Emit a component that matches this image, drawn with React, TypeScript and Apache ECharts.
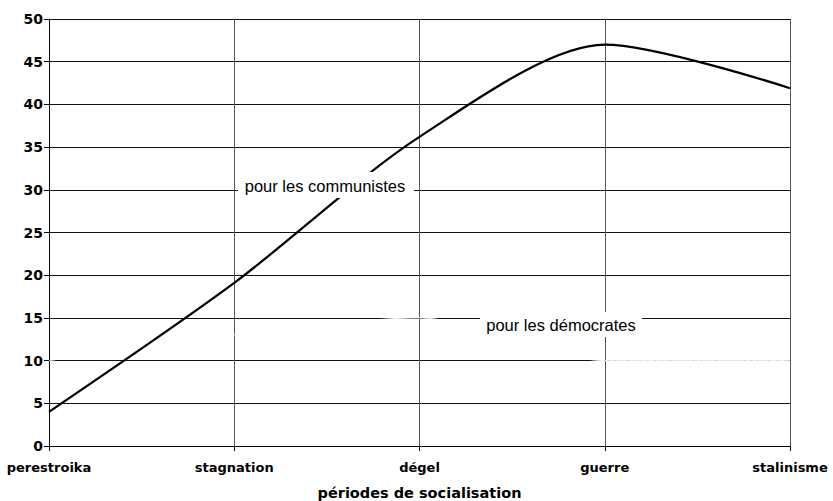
import React, { useEffect, useRef } from "react";
import * as echarts from "echarts";

const categories = ["perestroika", "stagnation", "dégel", "guerre", "stalinisme"];
const communistes = [4, 19.1, 36.2, 47, 41.9];
const democrates = [10, 13, 15, 10, 10];
const yTicks = { min: 0, max: 50, interval: 5 };

export default function App() {
  const ref = useRef<HTMLDivElement>(null);
  useEffect(() => {
    if (!ref.current) return;
    const chart = echarts.init(ref.current, undefined, { renderer: "svg" });
    chart.setOption({
      animation: false,
      backgroundColor: "#fff",
      grid: { left: 49, right: 43, top: 19, bottom: 55, containLabel: false, outerBoundsMode: "none" },
      xAxis: {
        type: "category",
        data: categories,
        boundaryGap: false,
        name: "périodes de socialisation",
        nameLocation: "middle",
        nameGap: 39,
        nameTextStyle: { fontFamily: "DejaVu Sans", fontWeight: "bold", fontSize: 14.5, color: "#000" },
        axisLine: { show: true, lineStyle: { color: "#000", width: 1 } },
        axisTick: { show: true, length: 5, lineStyle: { color: "#000" } },
        axisLabel: { fontFamily: "DejaVu Sans", fontWeight: "bold", fontSize: 13, color: "#000", margin: 15 },
        splitLine: { show: true, lineStyle: { color: "#555", width: 1 } },
      },
      yAxis: {
        type: "value",
        min: yTicks.min,
        max: yTicks.max,
        interval: yTicks.interval,
        axisLine: { show: true, lineStyle: { color: "#000", width: 1 } },
        axisTick: { show: true, length: 5, lineStyle: { color: "#000" } },
        axisLabel: { fontFamily: "DejaVu Sans", fontWeight: "bold", fontSize: 14, color: "#000", margin: 6 },
        splitLine: { show: true, lineStyle: { color: "#111", width: 1 } },
      },
      series: [
        {
          name: "pour les démocrates",
          type: "line",
          data: democrates,
          smooth: 0.28,
          symbol: "none",
          lineStyle: { color: "#fff", width: 1 },
          z: 3,
        },
        {
          name: "pour les communistes",
          type: "line",
          data: communistes,
          smooth: 0.28,
          symbol: "none",
          lineStyle: { color: "#000", width: 2.2 },
          z: 4,
        },
      ],
      graphic: [
        {
          type: "rect",
          shape: { x: 238, y: 172, width: 176, height: 26 },
          style: { fill: "#fff" },
          z: 100,
        },
        {
          type: "text",
          x: 325,
          y: 186,
          style: {
            text: "pour les communistes",
            fontFamily: "Liberation Sans",
            fontSize: 16.5,
            fill: "#000",
            align: "center",
            verticalAlign: "middle",
          },
          z: 101,
        },
        {
          type: "rect",
          shape: { x: 480, y: 312, width: 162, height: 25 },
          style: { fill: "#fff" },
          z: 100,
        },
        {
          type: "text",
          x: 561,
          y: 325,
          style: {
            text: "pour les démocrates",
            fontFamily: "Liberation Sans",
            fontSize: 16.5,
            fill: "#000",
            align: "center",
            verticalAlign: "middle",
          },
          z: 101,
        },
      ],
    });
    return () => chart.dispose();
  }, []);
  return (
    <div
      ref={ref}
      style={{ position: "fixed", left: 0, top: 0, width: 833, height: 501 }}
    />
  );
}
